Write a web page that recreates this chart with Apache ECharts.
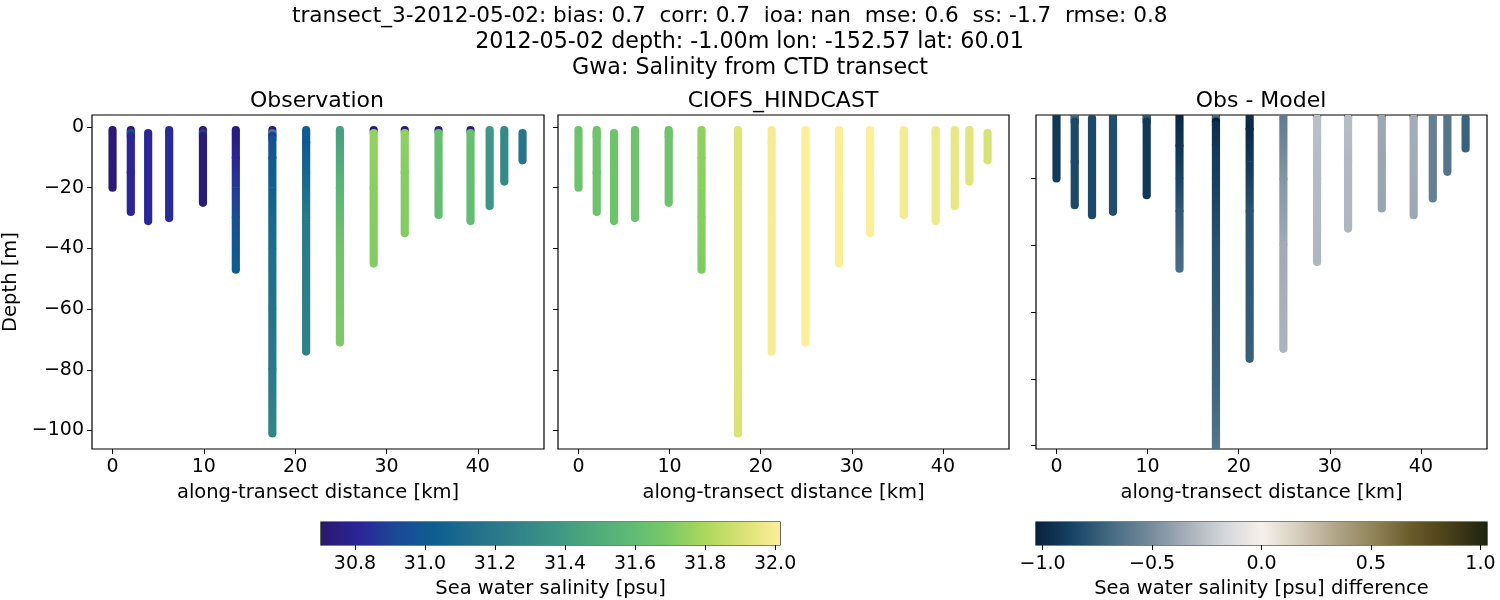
<!DOCTYPE html>
<html>
<head>
<meta charset="UTF-8">
<title>transect_3-2012-05-02</title>
<script src="https://cdn.jsdelivr.net/npm/echarts@6/dist/echarts.min.js"></script>
<style>
	html, body { margin: 0; background: #fff; }
	#main { width: 1500px; height: 600px; }
</style>
</head>
<body>
<div id="main"></div>
<script>
// one entry per CTD cast, along-transect distance in km
var castKm = [0, 2, 3.9, 6.2, 9.9, 13.5, 17.5, 21.2, 24.9, 28.6, 32, 35.7, 39.2, 41.3, 42.9, 44.9];

var castDepths = [
	[1, 20],
	[1, 2, 3, 15, 28],
	[2, 31],
	[1, 30],
	[1, 2, 3, 25],
	[1, 10, 20, 30, 47],
	[1, 2, 3, 4, 10, 20, 40, 60, 80, 101],
	[1, 5, 15, 30, 74],
	[1, 20, 40, 71],
	[1, 2, 20, 45],
	[1, 2, 15, 35],
	[1, 2, 29],
	[1, 2, 31],
	[1, 26],
	[1, 18],
	[2, 11]
];

// observed salinity (psu) at those depths
var obsSalinity = [
	[30.72, 30.73],
	[30.72, 30.95, 30.81, 30.81, 30.81],
	[30.81, 30.81],
	[30.83, 30.83],
	[30.72, 30.88, 30.73, 30.73],
	[30.74, 30.8, 30.87, 30.95, 31.03],
	[30.72, 31.25, 30.86, 30.95, 31.0, 31.04, 31.12, 31.16, 31.2, 31.28],
	[31.02, 31.0, 31.08, 31.2, 31.26],
	[31.42, 31.56, 31.66, 31.7],
	[30.72, 31.75, 31.73, 31.71],
	[30.72, 31.74, 31.72, 31.71],
	[30.72, 31.62, 31.6],
	[30.72, 31.62, 31.6],
	[31.38, 31.38],
	[31.3, 31.3],
	[31.18, 31.17]
];

// model salinity (psu) at the same depths
var modelSalinity = [
	[31.64, 31.64],
	[31.65, 31.65, 31.65, 31.65, 31.65],
	[31.65, 31.65],
	[31.65, 31.65],
	[31.65, 31.65, 31.65, 31.65],
	[31.74, 31.74, 31.73, 31.72, 31.7],
	[31.92, 31.92, 31.92, 31.92, 31.92, 31.92, 31.92, 31.92, 31.92, 31.91],
	[31.99, 31.99, 32.0, 32.0, 32.0],
	[32.02, 32.02, 32.02, 32.02],
	[32.02, 32.02, 32.02, 32.02],
	[32.02, 32.02, 32.02, 32.02],
	[31.99, 31.99, 31.99],
	[31.97, 31.97, 31.97],
	[31.95, 31.95],
	[31.93, 31.93],
	[31.9, 31.9]
];

var depthTicks = [0, -20, -40, -60, -80, -100];
var kmTicks = [0, 10, 20, 30, 40];
var salinityTicks = [30.8, 31, 31.2, 31.4, 31.6, 31.8, 32];
var diffTicks = [-1, -0.5, 0, 0.5, 1];

var salinityRange = [30.703, 32.014];
var diffRange = [-1.03, 1.03];

// cmocean haline, picked off the colour bar
var halineColors = ['#2a186c', '#2b2598', '#1a4a96', '#0e5e90', '#22708b', '#2f8088', '#3b9385',
	'#4ca87d', '#5cb976', '#77c867', '#aad75c', '#d8e274', '#fdee9a'];
// cmocean diff
var diffColors = ['#08213d', '#184566', '#466a82', '#74899b', '#a6aeb8', '#d4d6da', '#f5f0eb',
	'#d6ccbb', '#b0a587', '#8f8358', '#6a5a2a', '#474018', '#1e2410'];

var FONT = 'DejaVu Sans';
var TICK_SIZE = 19;
var NAME_SIZE = 19.5;

function colorOf(v, range, colors) {
	var t = (v - range[0]) / (range[1] - range[0]);
	return echarts.color.lerp(Math.max(0, Math.min(1, t)), colors);
}

// rows of [km, depth0, depth1, value0, value1, round], shallow first so deeper ones paint over
// round caps only at the ends of a cast and at the abrupt near-surface steps
function castRows(values) {
	var rows = [];
	castKm.forEach(function(km, c) {
		var d = castDepths[c];
		for (var i = 1; i < d.length; i++) {
			var round = i === 1 || i === d.length - 1 || d[i - 1] <= 4 ? 1 : 0;
			rows.push([km, -d[i - 1], -d[i], values[c][i - 1], values[c][i], round]);
		}
	});
	return rows;
}

var diffSalinity = obsSalinity.map(function(cast, c) {
	return cast.map(function(v, i) { return v - modelSalinity[c][i]; });
});

function castSeries(idx, values, range, colors) {
	return {
		type: 'custom',
		xAxisIndex: idx,
		yAxisIndex: idx,
		clip: true,
		silent: true,
		encode: { x: 0, y: [1, 2] },
		data: castRows(values),
		renderItem: function(params, api) {
			var a = api.coord([api.value(0), api.value(1)]);
			var b = api.coord([api.value(0), api.value(2)]);
			var round = api.value(5) === 1;
			return {
				type: 'line',
				shape: { x1: a[0], y1: round ? a[1] : a[1] - 0.5, x2: b[0], y2: b[1] },
				style: {
					lineWidth: 8.2,
					lineCap: round ? 'round' : 'butt',
					stroke: new echarts.graphic.LinearGradient(a[0], a[1], b[0], b[1], [
						{ offset: 0, color: colorOf(api.value(3), range, colors) },
						{ offset: 1, color: colorOf(api.value(4), range, colors) }
					], true)
				}
			};
		}
	};
}

function barSeries(idx, range, colors) {
	return {
		type: 'custom',
		xAxisIndex: idx,
		yAxisIndex: idx,
		silent: true,
		encode: { x: [0, 1], y: 2 },
		data: [[range[0], range[1], 0]],
		renderItem: function(params, api) {
			var a = api.coord([range[0], 0]);
			var b = api.coord([range[1], 1]);
			var stops = colors.map(function(c, i) {
				return { offset: i / (colors.length - 1), color: c };
			});
			return {
				type: 'rect',
				shape: { x: a[0], y: b[1], width: b[0] - a[0], height: a[1] - b[1] },
				style: { fill: new echarts.graphic.LinearGradient(0, 0, 1, 0, stops) }
			};
		}
	};
}

function tickLabel(decimals) {
	return function(v) {
		return v.toFixed(decimals).replace('-', '\u2212');
	};
}

function xAxisOf(idx, range, ticks, decimals, name, gap, margin) {
	return {
		type: 'value',
		gridIndex: idx,
		min: range[0],
		max: range[1],
		name: name,
		nameLocation: 'middle',
		nameGap: gap,
		nameTextStyle: { color: '#000', fontFamily: FONT, fontSize: NAME_SIZE },
		splitLine: { show: false },
		axisLine: { show: false, onZero: false },
		axisTick: { show: true, length: 5, customValues: ticks, lineStyle: { color: '#000', width: 1 } },
		axisLabel: { show: true, customValues: ticks, margin: margin, color: '#000', fontFamily: FONT, fontSize: TICK_SIZE,
			hideOverlap: false, showMinLabel: true, showMaxLabel: true, formatter: tickLabel(decimals) }
	};
}

function depthAxisOf(idx, range, ticks, labelled) {
	return {
		type: 'value',
		gridIndex: idx,
		min: range[0],
		max: range[1],
		name: labelled ? 'Depth [m]' : '',
		nameLocation: 'middle',
		nameGap: 71,
		nameTextStyle: { color: '#000', fontFamily: FONT, fontSize: NAME_SIZE },
		splitLine: { show: false },
		axisLine: { show: false, onZero: false },
		axisTick: { show: true, length: 5, customValues: ticks, lineStyle: { color: '#000', width: 1 } },
		axisLabel: { show: labelled, customValues: ticks, margin: 8, padding: [6, 0, 0, 0], color: '#000', fontFamily: FONT,
			fontSize: TICK_SIZE, formatter: tickLabel(0) }
	};
}

function gridOf(left, top, width, height) {
	return { left: left, top: top, width: width, height: height, show: true, outerBoundsMode: 'none',
		borderColor: '#000', borderWidth: 1.2, backgroundColor: 'transparent', containLabel: false };
}

function titleOf(text, left, top, size, align) {
	return { text: text, left: left, top: top, textAlign: align || 'center', textVerticalAlign: 'middle',
		padding: 0, textStyle: { color: '#000', fontFamily: FONT, fontSize: size, fontWeight: 'normal' } };
}

var kmRange = [-2.25, 47.25];
var colourBarY = { show: false, type: 'value', min: 0, max: 1 };

var myChart = echarts.init(document.getElementById('main'), null, { renderer: 'canvas' });
myChart.setOption({
	animation: false,
	backgroundColor: '#fff',
	title: [
		titleOf('transect_3-2012-05-02: bias: 0.7  corr: 0.7  ioa: nan  mse: 0.6  ss: -1.7  rmse: 0.8', 292, 16, 21.6, 'left'),
		titleOf('2012-05-02 depth: -1.00m lon: -152.57 lat: 60.01', 749.5, 42, 22.2),
		titleOf('Gwa: Salinity from CTD transect', 750, 68, 22.2),
		titleOf('Observation', 317, 101, 22),
		titleOf('CIOFS_HINDCAST', 783, 101, 22),
		titleOf('Obs - Model', 1261, 101, 22)
	],
	grid: [
		gridOf(92, 115, 452, 334),
		gridOf(558, 115, 451, 334),
		gridOf(1036, 115, 451, 334),
		gridOf(321, 522, 459, 23),
		gridOf(1036, 522, 451, 23)
	],
	xAxis: [
		xAxisOf(0, kmRange, kmTicks, 0, 'along-transect distance [km]', 34, 9),
		xAxisOf(1, kmRange, kmTicks, 0, 'along-transect distance [km]', 34, 9),
		xAxisOf(2, kmRange, kmTicks, 0, 'along-transect distance [km]', 34, 9),
		xAxisOf(3, salinityRange, salinityTicks, 1, 'Sea water salinity [psu]', 34, 10),
		xAxisOf(4, diffRange, diffTicks, 1, 'Sea water salinity [psu] difference', 34, 10)
	],
	yAxis: [
		depthAxisOf(0, [-106.1, 3.95], depthTicks, true),
		depthAxisOf(1, [-106.1, 3.95], depthTicks, false),
		depthAxisOf(2, [-101, -1], depthTicks, false),
		Object.assign({ gridIndex: 3 }, colourBarY),
		Object.assign({ gridIndex: 4 }, colourBarY)
	],
	series: [
		castSeries(0, obsSalinity, salinityRange, halineColors),
		castSeries(1, modelSalinity, salinityRange, halineColors),
		castSeries(2, diffSalinity, diffRange, diffColors),
		barSeries(3, salinityRange, halineColors),
		barSeries(4, diffRange, diffColors)
	]
});
</script>
</body>
</html>
